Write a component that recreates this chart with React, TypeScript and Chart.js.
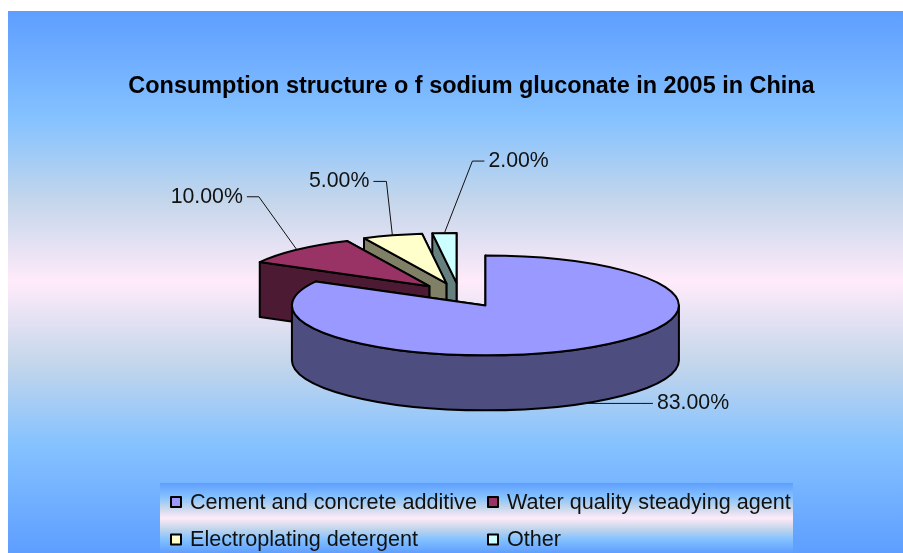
import React, { useEffect, useRef } from "react";
import { Chart, registerables } from "chart.js";

Chart.register(...registerables);

const categories = [
  "Cement and concrete additive",
  "Water quality steadying agent",
  "Electroplating detergent",
  "Other",
];
const shares = [83, 10, 5, 2];
const topColors = ["#9999FF", "#993366", "#FFFFCC", "#CCFFFF"];
const sideColors = ["#4D4D80", "#4D1A33", "#808066", "#668080"];
const titleText = "Consumption structure o f sodium gluconate in 2005 in China";

// leader line shape, relative to the anchor computed from each arc
const elbowOffsets = [[57, 0], [-38, -53], [-6, -54], [28, -72]];
const tailLengths = [12, -12, -13, 12];
// small per-slice horizontal correction of the exploded position
const sliceNudgeX = [0, 0, -2, -2];

const PIE = { shiftX: -10, cy: 295, tilt: 0.258, depth: 55, radius: 193.5, explode: 188 };
const GRADIENT = [
  [0, "#5E9EFF"], [0.2, "#85C2FF"], [0.35, "#C4D6EB"], [0.5, "#FFEBFA"],
  [0.65, "#C4D6EB"], [0.8, "#85C2FF"], [1, "#5E9EFF"],
] as const;

function fillGradient(ctx: CanvasRenderingContext2D, x: number, y: number, w: number, h: number) {
  const g = ctx.createLinearGradient(0, y, 0, y + h);
  GRADIENT.forEach(([s, c]) => g.addColorStop(s, c));
  ctx.fillStyle = g;
  ctx.fillRect(x, y, w, h);
}

function geometry(arc: any, i: number) {
  const mid = (arc.startAngle + arc.endAngle) / 2;
  const off = (arc.options.offset || 0) / 4;
  const cx = arc.x + PIE.shiftX + sliceNudgeX[i] + Math.cos(mid) * off;
  const cy = PIE.cy + Math.sin(mid) * off * PIE.tilt;
  const r = arc.outerRadius;
  const pt = (a: number): [number, number] => [cx + Math.cos(a) * r, cy + Math.sin(a) * r * PIE.tilt];
  return { mid, cx, cy, r, pt };
}

function quad(ctx: CanvasRenderingContext2D, p: [number, number], q: [number, number], color: string) {
  ctx.beginPath();
  ctx.moveTo(p[0], p[1]);
  ctx.lineTo(q[0], q[1]);
  ctx.lineTo(q[0], q[1] + PIE.depth);
  ctx.lineTo(p[0], p[1] + PIE.depth);
  ctx.closePath();
  ctx.fillStyle = color;
  ctx.fill();
  ctx.stroke();
}

function drawSlice(ctx: CanvasRenderingContext2D, arc: any, i: number) {
  const { cx, cy, r, pt } = geometry(arc, i);
  const a = arc.startAngle;
  const b = arc.endAngle;
  const ry = r * PIE.tilt;
  ctx.lineWidth = 2;
  ctx.strokeStyle = "#000";
  ctx.lineJoin = "round";
  quad(ctx, [cx, cy], pt(b), sideColors[i]);
  quad(ctx, [cx, cy], pt(a), sideColors[i]);
  // outer wall: only the part that faces the viewer
  const from = Math.max(a, 0);
  const to = Math.min(b, Math.PI);
  if (to > from) {
    ctx.beginPath();
    ctx.ellipse(cx, cy, r, ry, 0, from, to);
    ctx.ellipse(cx, cy + PIE.depth, r, ry, 0, to, from, true);
    ctx.closePath();
    ctx.fillStyle = sideColors[i];
    ctx.fill();
    ctx.stroke();
  }
  ctx.beginPath();
  ctx.moveTo(cx, cy);
  ctx.ellipse(cx, cy, r, ry, 0, a, b);
  ctx.closePath();
  ctx.fillStyle = topColors[i];
  ctx.fill();
  ctx.stroke();
}

const pie3d = {
  id: "pie3d",
  beforeDraw(chart: any) {
    fillGradient(chart.ctx, 8, 11, chart.width - 8, chart.height - 11);
  },
  beforeDatasetsDraw(chart: any) {
    const ctx: CanvasRenderingContext2D = chart.ctx;
    const arcs = chart.getDatasetMeta(0).data;
    ctx.save();
    [3, 2, 1, 0].forEach((i) => drawSlice(ctx, arcs[i], i));

    // value labels with leader lines
    ctx.font = '21.3px "Liberation Sans"';
    ctx.fillStyle = "#111";
    ctx.textBaseline = "middle";
    ctx.lineWidth = 1;
    ctx.strokeStyle = "#111";
    arcs.forEach((arc: any, i: number) => {
      const { mid, pt } = geometry(arc, i);
      const p = pt(mid);
      const y0 = i === 0 ? p[1] + PIE.depth : p[1];
      const ex = p[0] + elbowOffsets[i][0];
      const ey = y0 + elbowOffsets[i][1];
      const tx = ex + tailLengths[i];
      ctx.beginPath();
      ctx.moveTo(p[0], y0);
      ctx.lineTo(ex, ey);
      ctx.lineTo(tx, ey);
      ctx.stroke();
      ctx.textAlign = tailLengths[i] > 0 ? "left" : "right";
      ctx.fillText(shares[i].toFixed(2) + "%", tx + Math.sign(tailLengths[i]) * 4, ey);
    });

    // legend panel
    fillGradient(ctx, 160, 483, 633, 70);
    const colX = [171, 488];
    const rowY = [503, 540.5];
    ctx.font = '21.6px "Liberation Sans"';
    ctx.textAlign = "left";
    categories.forEach((label, i) => {
      const x = colX[i % 2];
      const y = rowY[Math.floor(i / 2)];
      ctx.fillStyle = topColors[i];
      ctx.lineWidth = 2;
      ctx.strokeStyle = "#000";
      ctx.fillRect(x, y - 6, 10, 10);
      ctx.strokeRect(x, y - 6, 10, 10);
      ctx.fillStyle = "#111";
      ctx.fillText(label, x + 19, y);
    });
    ctx.restore();
    return false;
  },
};

export default function App() {
  const ref = useRef<HTMLCanvasElement>(null);
  useEffect(() => {
    const chart = new Chart(ref.current!, {
      type: "pie",
      data: {
        labels: categories,
        datasets: [{ data: shares, backgroundColor: topColors, offset: PIE.explode }],
      },
      options: {
        animation: false,
        responsive: false,
        radius: PIE.radius,
        layout: { padding: { left: 40, right: 0, top: 0, bottom: 0 } },
        plugins: {
          legend: { display: false },
          tooltip: { enabled: false },
          title: {
            display: true,
            text: titleText,
            color: "#000",
            font: { family: '"Liberation Sans"', size: 23.45, weight: "bold" },
            padding: { top: 72, bottom: 10 },
          },
        },
      },
      plugins: [pie3d],
    } as any);
    return () => chart.destroy();
  }, []);
  return (
    <div style={{ position: "fixed", left: 0, top: 0, width: 903, height: 553, background: "#fff", overflow: "hidden" }}>
      <canvas ref={ref} width={903} height={553} style={{ display: "block" }} />
    </div>
  );
}
